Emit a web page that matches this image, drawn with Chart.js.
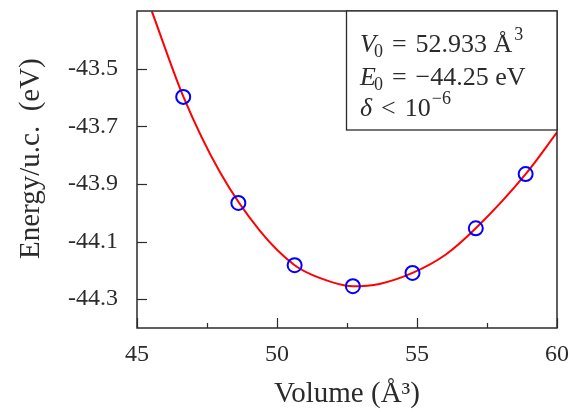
<!DOCTYPE html>
<html>
<head>
<meta charset="utf-8">
<script src="https://cdn.jsdelivr.net/npm/chart.js@4"></script>
<style>
  html, body { margin: 0; padding: 0; background: #fff; }
  #wrap { width: 581px; height: 412px; }
</style>
</head>
<body>
<div id="wrap"><canvas id="myChart" width="581" height="412"></canvas></div>
<script>
// computed points (volume in Å^3, energy in eV)
const volumes = [46.65, 48.62, 50.63, 52.71, 54.84, 57.10, 58.88];
const energies = [-43.598, -43.966, -44.182, -44.255, -44.209, -44.054, -43.866];

// fitted equation of state
const fitVolumes = [45.53, 46.66, 47.96, 49.39, 50.63, 51.52, 52.70, 53.66, 54.84, 56.03, 57.10, 58.88, 60.0];
const fitEnergies = [-43.301, -43.598, -43.859, -44.063, -44.182, -44.226, -44.255, -44.247, -44.209, -44.145, -44.054, -43.866, -43.721];

const yTickLabels = [-43.5, -43.7, -43.9, -44.1, -44.3];
const xMinorTicks = [47.5, 52.5, 57.5];
const fitText = ['52.933', '\u221244.25', '10'];

const serif = "'Liberation Serif', 'DejaVu Serif', serif";
const ink = '#2b2b2b';

const toXY = (xs, ys) => xs.map((x, i) => ({ x: x, y: ys[i] }));

// frame + inward ticks like the original plot
const framePlugin = {
  id: 'frame',
  afterDatasetsDraw(chart) {
    const { ctx, chartArea: a, scales } = chart;
    ctx.save();
    ctx.strokeStyle = ink;
    ctx.lineWidth = 1.2;
    // y ticks every 0.1, labelled ones longer
    scales.y.ticks.forEach(t => {
      const y = Math.round(scales.y.getPixelForValue(t.value)) + 0.5;
      const len = t.label ? 10 : 5;
      ctx.beginPath();
      ctx.moveTo(a.left, y);
      ctx.lineTo(a.left + len, y);
      ctx.stroke();
    });
    scales.x.ticks.forEach(t => {
      const x = Math.round(scales.x.getPixelForValue(t.value)) + 0.5;
      ctx.beginPath();
      ctx.moveTo(x, a.bottom);
      ctx.lineTo(x, a.bottom - 10);
      ctx.stroke();
    });
    xMinorTicks.forEach(v => {
      const x = Math.round(scales.x.getPixelForValue(v)) + 0.5;
      ctx.beginPath();
      ctx.moveTo(x, a.bottom);
      ctx.lineTo(x, a.bottom - 5);
      ctx.stroke();
    });
    ctx.lineWidth = 1.5;
    ctx.strokeRect(a.left, a.top, a.right - a.left, a.bottom - a.top);
    ctx.restore();
  },
  afterDraw(chart) {
    const { ctx, chartArea: a } = chart;
    const box = { left: 346, top: a.top, right: a.right, bottom: 130 };
    ctx.save();
    ctx.fillStyle = '#fff';
    ctx.fillRect(box.left, box.top, box.right - box.left, box.bottom - box.top);
    ctx.strokeStyle = ink;
    ctx.lineWidth = 1.3;
    ctx.strokeRect(box.left + 0.5, box.top, box.right - box.left - 0.5, box.bottom - box.top);
    ctx.fillStyle = ink;
    ctx.textBaseline = 'alphabetic';

    const big = '26px ' + serif;
    const bigIt = 'italic 26px ' + serif;
    const small = '18px ' + serif;
    const put = (x, y, s, font, dy) => {
      ctx.font = font;
      ctx.fillText(s, x, y + (dy || 0));
      return x + ctx.measureText(s).width;
    };
    let x = 360;
    let y = 52;
    x = put(x, y, 'V', bigIt);
    x = put(x - 2, y, '0', small, 5);
    x = put(x + 9, y, '=', big);
    x = put(x + 9, y, fitText[0] + ' \u00c5', big);
    put(x + 2, y, '3', small, -12);

    x = 360; y = 85;
    x = put(x, y, 'E', bigIt);
    x = put(x - 2, y, '0', small, 5);
    x = put(x + 9, y, '=', big);
    put(x + 9, y, fitText[1] + ' eV', big);

    x = 360; y = 116;
    x = put(x, y, '\u03b4', bigIt);
    x = put(x + 9, y, '<', big);
    x = put(x + 9, y, fitText[2], big);
    put(x + 1, y, '\u22126', small, -12);
    ctx.restore();
  }
};

const ctx = document.getElementById('myChart');

new Chart(ctx, {
  type: 'scatter',
  data: {
    datasets: [
      {
        label: 'fit',
        data: toXY(fitVolumes, fitEnergies),
        showLine: true,
        borderColor: '#ff0000',
        borderWidth: 2,
        pointRadius: 0,
        cubicInterpolationMode: 'monotone',
        order: 2
      },
      {
        label: 'computed',
        data: toXY(volumes, energies),
        showLine: false,
        pointRadius: 7,
        pointBorderWidth: 2,
        pointBorderColor: '#0000ff',
        pointBackgroundColor: 'rgba(0,0,0,0)',
        order: 1
      }
    ]
  },
  plugins: [framePlugin],
  options: {
    responsive: false,
    animation: false,
    layout: { padding: { left: 0, top: 11, right: 23, bottom: 0 } },
    plugins: {
      legend: { display: false },
      tooltip: { enabled: false }
    },
    scales: {
      x: {
        type: 'linear',
        min: 45,
        max: 60,
        grid: { display: false, drawTicks: false },
        border: { display: false },
        ticks: {
          stepSize: 5,
          padding: 12,
          color: ink,
          font: { family: serif, size: 24 }
        },
        title: {
          display: true,
          text: 'Volume (\u00c5\u00b3)',
          color: ink,
          font: { family: serif, size: 29 },
          padding: { top: 0, bottom: 0 }
        },
        afterFit(scale) { scale.height = 84; }
      },
      y: {
        type: 'linear',
        min: -44.4,
        max: -43.3,
        grid: { display: false, drawTicks: false },
        border: { display: false },
        ticks: {
          stepSize: 0.1,
          autoSkip: false,
          padding: 19,
          color: ink,
          font: { family: serif, size: 24 },
          callback(value) {
            const hit = yTickLabels.some(v => Math.abs(v - value) < 1e-6);
            return hit ? value.toFixed(1) : null;
          }
        },
        title: {
          display: true,
          text: '   Energy/u.c.  (eV)',
          color: ink,
          font: { family: serif, size: 29 },
          padding: { top: 14, bottom: 0 }
        },
        afterFit(scale) {
          scale.width = 137;
          scale.paddingTop = 0;
          scale.paddingBottom = 0;
        }
      }
    }
  }
});
</script>
</body>
</html>
